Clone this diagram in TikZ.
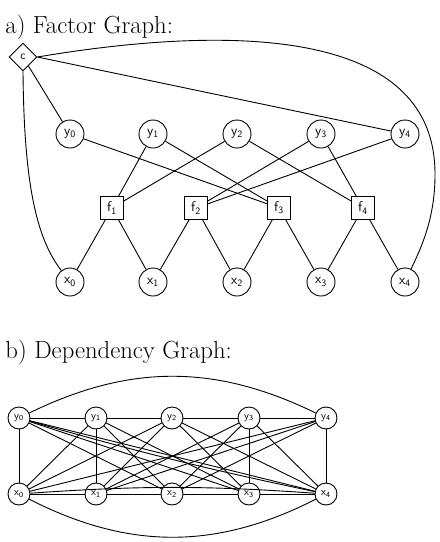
\documentclass[tikz,border=0pt]{standalone}
\usetikzlibrary{shapes.geometric}
\begin{document}
\begin{tikzpicture}[x=1pt,y=-1pt,line width=0.9pt,
  var/.style={circle,draw,minimum size=28pt,inner sep=0pt,font=\sffamily\fontsize{14}{14}\selectfont},
  fac/.style={rectangle,draw,minimum size=23pt,inner sep=0pt,font=\sffamily\fontsize{14}{14}\selectfont},
  cfac/.style={diamond,draw,minimum width=28pt,minimum height=28pt,inner sep=0pt,font=\sffamily\fontsize{12}{12}\selectfont},
  dvar/.style={circle,draw,minimum size=22pt,inner sep=0pt,font=\sffamily\fontsize{11}{11}\selectfont},
  title/.style={anchor=base west,inner sep=0pt,font=\fontsize{24.7}{24.7}\selectfont}]
\useasboundingbox (0,0) rectangle (440,542);
% ---- a) factor graph
\node[title] (ta) at (5,33) {a) Factor Graph:};
\node[cfac] (c) at (23,57) {c};
\foreach \i/\x in {0/70,1/153,2/237,3/321,4/405}{
  \node[var] (y\i) at (\x,134) {y\textsubscript{\i}};
  \node[var] (x\i) at (\x,282) {x\textsubscript{\i}};
}
\foreach \i/\x in {1/112,2/196,3/279,4/363}{
  \node[fac] (f\i) at (\x,208) {f\textsubscript{\i}};
}
\foreach \f/\a/\b/\c/\d in {1/y1/y2/x0/x1,2/y3/y4/x1/x2,3/y0/y1/x2/x3,4/y2/y3/x3/x4}{
  \draw (f\f) -- (\a); \draw (f\f) -- (\b); \draw (f\f) -- (\c); \draw (f\f) -- (\d);
}
\draw (c) -- (y0);
\draw (c.east) -- (y4);
\draw (c.south) .. controls (24,190) and (38,240) .. (x0);
\coordinate (cr) at (435,175);
\draw (c.east) .. controls (210,28) and (436,20) .. (cr) .. controls (435,220) and (420,250) .. (x4);
% ---- b) dependency graph
\node[title] (tb) at (5,358) {b) Dependency Graph:};
\foreach \i/\x in {0/19,1/96,2/172,3/249,4/326}{
  \node[dvar] (Y\i) at (\x,418) {y\textsubscript{\i}};
  \node[dvar] (X\i) at (\x,494) {x\textsubscript{\i}};
}
\draw (Y0) to[bend left=26] (Y4);
\draw (X0) to[bend right=27] (X4);
\draw (X0) to[bend left=4] (X4);
\draw (Y0) to[bend right=2] (X4);
\foreach \a/\b in {Y0/Y1,Y1/Y2,Y2/Y3,Y3/Y4,X0/X1,X1/X2,X2/X3,X3/X4,
  Y0/X0,Y1/X1,Y3/X3,Y4/X4,
  Y1/X0,Y2/X0,Y4/X0,Y2/X1,Y3/X1,Y4/X1,Y3/X2,Y4/X2,
  Y0/X2,Y1/X2,Y0/X3,Y1/X3,Y2/X3,Y0/X4,Y2/X4,Y3/X4}{
  \draw (\a) -- (\b);
}
\end{tikzpicture}
\end{document}
